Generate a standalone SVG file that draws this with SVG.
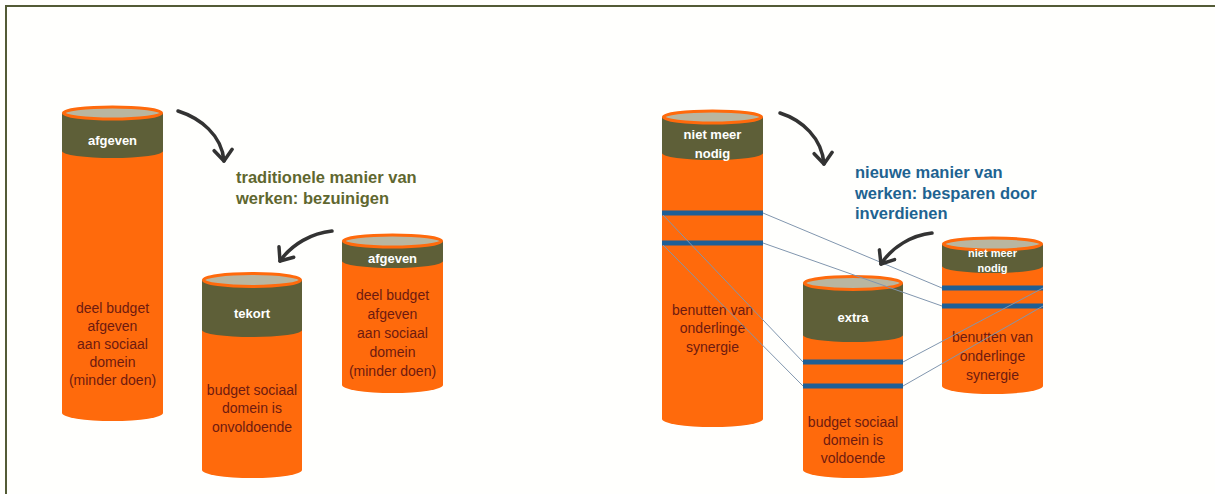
<svg xmlns="http://www.w3.org/2000/svg" width="1215" height="494" viewBox="0 0 1215 494">
  <style>
    .body { fill: #ff6a0c; }
    .band { fill: #5e5f38; }
    .rim { fill: #b9b6a0; stroke: #ff6a0c; stroke-width: 3; }
    .stripe { fill: #1f5f95; }
    .lbl { font-family: "Liberation Sans", Arial, sans-serif; font-weight: bold; font-size: 13px; fill: #ffffff; text-anchor: middle; }
    .lbl-s { font-size: 11px; }
    .txt { font-family: "Liberation Sans", Arial, sans-serif; font-size: 14px; fill: #6e1a10; text-anchor: middle; }
    .title { font-family: "Liberation Sans", Arial, sans-serif; font-weight: bold; font-size: 16.5px; }
    .link { stroke: #8196ae; stroke-width: 1; fill: none; }
    .arrow { stroke: #333333; stroke-width: 3.5; fill: none; stroke-linecap: round; marker-end: url(#chev); }
  </style>
  <defs>
    <marker id="chev" viewBox="-14 -11 18 22" markerWidth="18" markerHeight="22" markerUnits="userSpaceOnUse" refX="0" refY="0" orient="auto">
      <path d="M-11,-9 L0,0 L-11,9" fill="none" stroke="#333333" stroke-width="3.5" stroke-linecap="round" stroke-linejoin="round"/>
    </marker>
  </defs>

  <!-- page background and frame -->
  <rect x="0" y="0" width="1215" height="494" fill="#fffffd"/>
  <line x1="5" y1="6" x2="1215" y2="6" stroke="#535b36" stroke-width="2"/>
  <line x1="6" y1="5" x2="6" y2="494" stroke="#535b36" stroke-width="2"/>

  <!-- left: traditional way -->
  <g id="cyl-afgeven-large">
    <path class="body" d="M62,113 L62,413 A50.5,8 0 0 0 163,413 L163,113 Z"/>
    <path class="band" d="M62,113 L62,151 A50.5,7 0 0 0 163,151 L163,113 Z"/>
    <ellipse class="rim" cx="112.5" cy="113" rx="49" ry="6"/>
    <text class="lbl" x="112.5" y="145">afgeven</text>
    <text class="txt" x="112.5" y="313">deel budget</text>
    <text class="txt" x="112.5" y="331">afgeven</text>
    <text class="txt" x="112.5" y="349">aan sociaal</text>
    <text class="txt" x="112.5" y="367">domein</text>
    <text class="txt" x="112.5" y="385">(minder doen)</text>
  </g>

  <g id="cyl-tekort">
    <path class="body" d="M202,280 L202,470 A50,8 0 0 0 302,470 L302,280 Z"/>
    <path class="band" d="M202,280 L202,330 A50,7 0 0 0 302,330 L302,280 Z"/>
    <ellipse class="rim" cx="252" cy="280" rx="48.5" ry="6.5"/>
    <text class="lbl" x="252" y="318">tekort</text>
    <text class="txt" x="252" y="395">budget sociaal</text>
    <text class="txt" x="252" y="413">domein is</text>
    <text class="txt" x="252" y="432">onvoldoende</text>
  </g>

  <g id="cyl-afgeven-small">
    <path class="body" d="M342,241 L342,385 A50.5,8 0 0 0 443,385 L443,241 Z"/>
    <path class="band" d="M342,241 L342,261 A50.5,7 0 0 0 443,261 L443,241 Z"/>
    <ellipse class="rim" cx="392.5" cy="241" rx="49" ry="6"/>
    <text class="lbl" x="392.5" y="263">afgeven</text>
    <text class="txt" x="392.5" y="300">deel budget</text>
    <text class="txt" x="392.5" y="319">afgeven</text>
    <text class="txt" x="392.5" y="338">aan sociaal</text>
    <text class="txt" x="392.5" y="357">domein</text>
    <text class="txt" x="392.5" y="376">(minder doen)</text>
  </g>

  <g id="title-traditioneel">
    <text class="title" x="236" y="183" fill="#5f672f">traditionele manier van</text>
    <text class="title" x="236" y="204" fill="#5f672f">werken: bezuinigen</text>
  </g>

  <!-- right: new way -->
  <g id="cyl-niet-meer-nodig-large">
    <path class="body" d="M662,117 L662,419 A50.5,8 0 0 0 763,419 L763,117 Z"/>
    <path class="band" d="M662,117 L662,153 A50.5,7 0 0 0 763,153 L763,117 Z"/>
    <ellipse class="rim" cx="712.5" cy="117" rx="49" ry="6"/>
    <rect class="stripe" x="662" y="210.5" width="101" height="5"/>
    <rect class="stripe" x="662" y="240.5" width="101" height="5"/>
    <text class="lbl" x="712.5" y="139">niet meer</text>
    <text class="lbl" x="712.5" y="158">nodig</text>
    <text class="txt" x="712.5" y="315">benutten van</text>
    <text class="txt" x="712.5" y="333">onderlinge</text>
    <text class="txt" x="712.5" y="352">synergie</text>
  </g>

  <g id="cyl-extra">
    <path class="body" d="M803,283 L803,470 A50,8 0 0 0 903,470 L903,283 Z"/>
    <path class="band" d="M803,283 L803,335 A50,7 0 0 0 903,335 L903,283 Z"/>
    <ellipse class="rim" cx="853" cy="283" rx="48.5" ry="6.5"/>
    <rect class="stripe" x="803" y="359.5" width="100" height="5"/>
    <rect class="stripe" x="803" y="383.5" width="100" height="5"/>
    <text class="lbl" x="853" y="322">extra</text>
    <text class="txt" x="853" y="427">budget sociaal</text>
    <text class="txt" x="853" y="445">domein is</text>
    <text class="txt" x="853" y="463">voldoende</text>
  </g>

  <g id="cyl-niet-meer-nodig-small">
    <path class="body" d="M942,244 L942,386 A50.5,8 0 0 0 1043,386 L1043,244 Z"/>
    <path class="band" d="M942,244 L942,266 A50.5,7 0 0 0 1043,266 L1043,244 Z"/>
    <ellipse class="rim" cx="992.5" cy="244" rx="49" ry="6"/>
    <rect class="stripe" x="942" y="285.5" width="101" height="5"/>
    <rect class="stripe" x="942" y="303.5" width="101" height="5"/>
    <text class="lbl lbl-s" x="992.5" y="257">niet meer</text>
    <text class="lbl lbl-s" x="992.5" y="272">nodig</text>
    <text class="txt" x="992.5" y="342">benutten van</text>
    <text class="txt" x="992.5" y="361">onderlinge</text>
    <text class="txt" x="992.5" y="380">synergie</text>
  </g>

  <g id="title-nieuw">
    <text class="title" x="855" y="178" fill="#1e6391">nieuwe manier van</text>
    <text class="title" x="855" y="199" fill="#1e6391">werken: besparen door</text>
    <text class="title" x="855" y="219" fill="#1e6391">inverdienen</text>
  </g>

  <!-- connectors: stripe links and curved arrows -->
  <g id="connectors">
    <line class="link" x1="763" y1="213" x2="942" y2="288"/>
    <line class="link" x1="763" y1="243" x2="942" y2="306"/>
    <line class="link" x1="663" y1="215" x2="803" y2="362"/>
    <line class="link" x1="663" y1="245" x2="803" y2="386"/>
    <line class="link" x1="903" y1="362" x2="1043" y2="288"/>
    <line class="link" x1="903" y1="386" x2="1043" y2="306"/>

    <path class="arrow" d="M178,111 C200,118 222,135 224,161"/>
    <path class="arrow" d="M332,231 C312,233 292,244 280,261"/>
    <path class="arrow" d="M780,113 C802,120 822,138 824,164"/>
    <path class="arrow" d="M932,233 C912,235 892,247 881,264"/>
  </g>
</svg>
